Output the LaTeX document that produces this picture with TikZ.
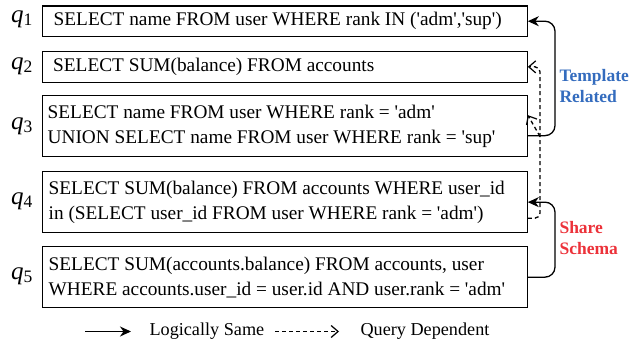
\documentclass[tikz,border=0pt]{standalone}
\usepackage{fontspec}
\setmainfont{Liberation Serif}[Ligatures=TeXOff]
\usetikzlibrary{arrows.meta}
\definecolor{tblue}{RGB}{52,108,190}
\definecolor{sred}{RGB}{236,50,58}
\begin{document}
\begin{tikzpicture}[x=1pt,y=-1pt,
  qbox/.style={draw,line width=1.3pt,anchor=north west,inner sep=0pt,minimum width=485pt},
  qtxt/.style={align=left,anchor=west,inner sep=0pt,font=\fontsize{19.3}{25}\selectfont},
  qlab/.style={font=\fontsize{25}{27}\selectfont},
  conn/.style={line width=1.3pt,rounded corners=10pt},
  solidtip/.style={-{Stealth[length=11pt,width=10pt,inset=3.5pt]}},
  dashtip/.style={dashed,dash pattern=on 4pt off 3pt,-{Straight Barb[length=7pt,width=12pt,line width=1.2pt]}},
  lbl/.style={font=\fontsize{17.5}{21}\selectfont\bfseries,align=left,anchor=north west},
  leg/.style={font=\fontsize{18.2}{20}\selectfont,anchor=west}]
\useasboundingbox (0,0) rectangle (632,345);

% boxes
\node[qbox,minimum height=30.5pt] (b1) at (41.5,5.3) {};
\node[qbox,minimum height=31pt] (b2) at (41.5,50.7) {};
\node[qbox,minimum height=61pt] (b3) at (41.5,95) {};
\node[qbox,minimum height=61pt] (b4) at (41.5,171) {};
\node[qbox,minimum height=61pt] (b5) at (41.5,246) {};

% texts
\node[qtxt] (t1) at ([xshift=12pt]b1.west) {SELECT name FROM user WHERE rank IN ('adm','sup')};
\node[qtxt] (t2) at ([xshift=11.5pt]b2.west) {SELECT SUM(balance) FROM accounts};
\node[qtxt] (t3) at ([xshift=6pt]b3.west) {SELECT name FROM user WHERE rank = 'adm'\\UNION SELECT name FROM user WHERE rank = 'sup'};
\node[qtxt] (t4) at ([xshift=7pt]b4.west) {SELECT SUM(balance) FROM accounts WHERE user\_id\\in (SELECT user\_id FROM user WHERE rank = 'adm')};
\node[qtxt] (t5) at ([xshift=7pt]b5.west) {SELECT SUM(accounts.balance) FROM accounts, user\\WHERE accounts.user\_id = user.id AND user.rank = 'adm'};

% q labels
\node[qlab] (q1) at (22,19) {\textit{q}\textsubscript{1}};
\node[qlab] (q2) at (22,66) {\textit{q}\textsubscript{2}};
\node[qlab] (q3) at (22,126) {\textit{q}\textsubscript{3}};
\node[qlab] (q4) at (22,201) {\textit{q}\textsubscript{4}};
\node[qlab] (q5) at (22,276) {\textit{q}\textsubscript{5}};

% connectors
\coordinate (s3) at ([yshift=-9.5pt]b3.east);
\draw[conn,solidtip] (s3) -| (555,60) |- (b1.east);
\coordinate (s4) at ([yshift=-16pt]b4.east);
\coordinate (e3) at ([yshift=11pt]b3.east);
\draw[conn,dashtip,rounded corners=5pt] (s4) -| (540,100) |- (b2.east);
\coordinate (d3) at (540,136.5);
\draw[line width=1.3pt,dashtip] (d3) -- (e3);
\draw[conn,solidtip] (b5.east) -| (555,240) |- (b4.east);

% labels
\node[lbl,text=tblue] (tr) at (556,66) {Template\\Related};
\node[lbl,text=sred] (ss) at (556,218) {Share\\Schema};

% legend
\coordinate (l1a) at (85,331.5);
\coordinate (l1b) at (131,331.5);
\draw[line width=1.3pt,solidtip] (l1a) -- (l1b);
\node[leg] (lt1) at (146,331) {Logically Same};
\coordinate (l2a) at (275,331.5);
\coordinate (l2b) at (339,331.5);
\draw[line width=1.2pt,dashtip] (l2a) -- (l2b);
\node[leg] (lt2) at (357,331) {Query Dependent};
\end{tikzpicture}
\end{document}
